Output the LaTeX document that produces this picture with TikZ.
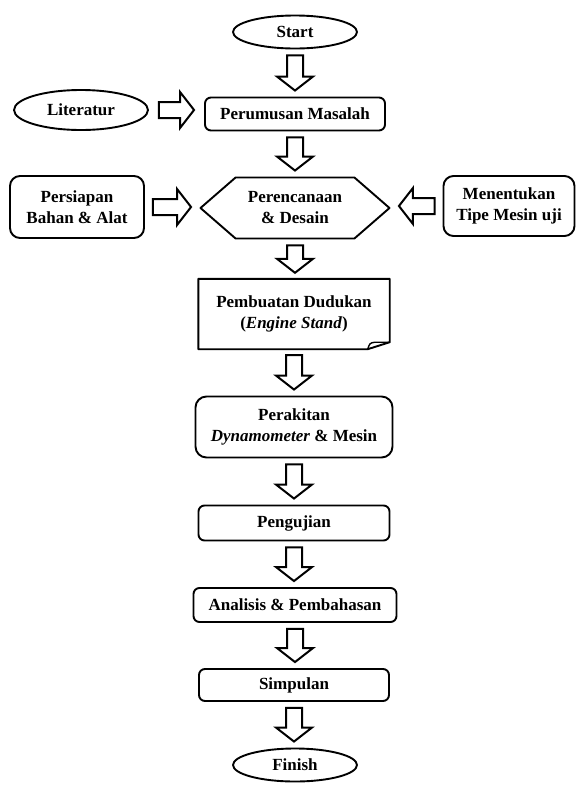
\documentclass[tikz,border=0pt]{standalone}
\usepackage{fontspec}
\setmainfont{Liberation Serif}
\usetikzlibrary{shapes.geometric,shapes.symbols,calc}

% hollow block arrow from #2 to #3, #1 = gap to the nodes
\newcommand{\blockarrow}[3][6pt]{%
	\coordinate (ba-s) at ($(#2)!#1!(#3)$);
	\coordinate (ba-e) at ($(#3)!#1!(#2)$);
	\coordinate (ba-h) at ($(ba-e)!14pt!(ba-s)$);
	\draw[blk] ($(ba-s)!8pt!90:(ba-e)$) -- ($(ba-h)!8pt!90:(ba-e)$) -- ($(ba-h)!18pt!90:(ba-e)$) -- (ba-e)
		-- ($(ba-h)!18pt!-90:(ba-e)$) -- ($(ba-h)!8pt!-90:(ba-e)$) -- ($(ba-s)!8pt!-90:(ba-e)$) -- cycle;}

\begin{document}
\begin{tikzpicture}[x=1pt,y=-1pt,line join=round,line cap=round,
	every node/.style={font=\fontsize{17}{21}\selectfont\bfseries,align=center,inner sep=0pt},
	term/.style={ellipse,draw,line width=1.9pt,minimum width=124pt,minimum height=33pt},
	box/.style={draw,line width=1.9pt,rounded corners=6pt},
	blk/.style={line width=2pt,line join=miter}]
	\useasboundingbox (0,0) rectangle (577,785);
	% main column
	\node[term] (start) at (295,32) {Start};
	\node[box,minimum width=180pt,minimum height=33pt] (perum) at (295,114) {Perumusan Masalah};
	\node[signal,signal to=west and east,signal pointer angle=82,draw,line width=1.9pt,
		minimum width=189pt,minimum height=61pt] (desain) at (295,208) {Perencanaan\\\& Desain};
	\node[minimum width=191pt,minimum height=70pt] (dudukan) at (294,314) {Pembuatan Dudukan\\(\textit{Engine Stand})};
	\draw[line width=1.9pt] (dudukan.north west) -- (dudukan.north east) -- ($(dudukan.south east)+(0,-7)$)
		-- ($(dudukan.south east)+(-22,0)$) -- (dudukan.south west) -- cycle;
	\draw[line width=1.4pt] ($(dudukan.south east)+(-22,0)$) .. controls ($(dudukan.south east)+(-20,-6)$) .. ($(dudukan.south east)+(-15,-7)$) -- ($(dudukan.south east)+(0,-7)$);
	\node[box,rounded corners=11pt,minimum width=197pt,minimum height=61pt] (rakit) at (294,427) {Perakitan\\\textit{Dynamometer} \& Mesin};
	\node[box,minimum width=191pt,minimum height=35pt] (uji) at (294,523) {Pengujian};
	\node[box,minimum width=203pt,minimum height=34pt] (analisis) at (295,605) {Analisis \& Pembahasan};
	\node[box,minimum width=190pt,minimum height=32pt] (simpulan) at (294,685) {Simpulan};
	\node[term] (finish) at (295,765) {Finish};
	% side inputs
	\node[term,minimum width=134pt,minimum height=40pt] (lit) at (81,110) {Literatur};
	\node[box,rounded corners=10pt,minimum width=134pt,minimum height=62pt] (bahan) at (77,207) {Persiapan\\Bahan \& Alat};
	\node[box,rounded corners=10pt,minimum width=131pt,minimum height=60pt] (mesin) at (509,206) {Menentukan\\Tipe Mesin uji};
	% arrows
	\blockarrow{start.south}{start.south |- perum.north}
	\blockarrow{perum.south}{perum.south |- desain.north}
	\blockarrow{desain.south}{desain.south |- dudukan.north}
	\blockarrow{dudukan.south}{dudukan.south |- rakit.north}
	\blockarrow{rakit.south}{rakit.south |- uji.north}
	\blockarrow{uji.south}{uji.south |- analisis.north}
	\blockarrow{analisis.south}{analisis.south |- simpulan.north}
	\blockarrow{simpulan.south}{simpulan.south |- finish.north}
	\blockarrow[10pt]{lit.east}{lit.east -| perum.west}
	\blockarrow[8pt]{bahan.east}{bahan.east -| desain.west}
	\blockarrow[8pt]{mesin.west}{mesin.west -| desain.east}
\end{tikzpicture}
\end{document}
